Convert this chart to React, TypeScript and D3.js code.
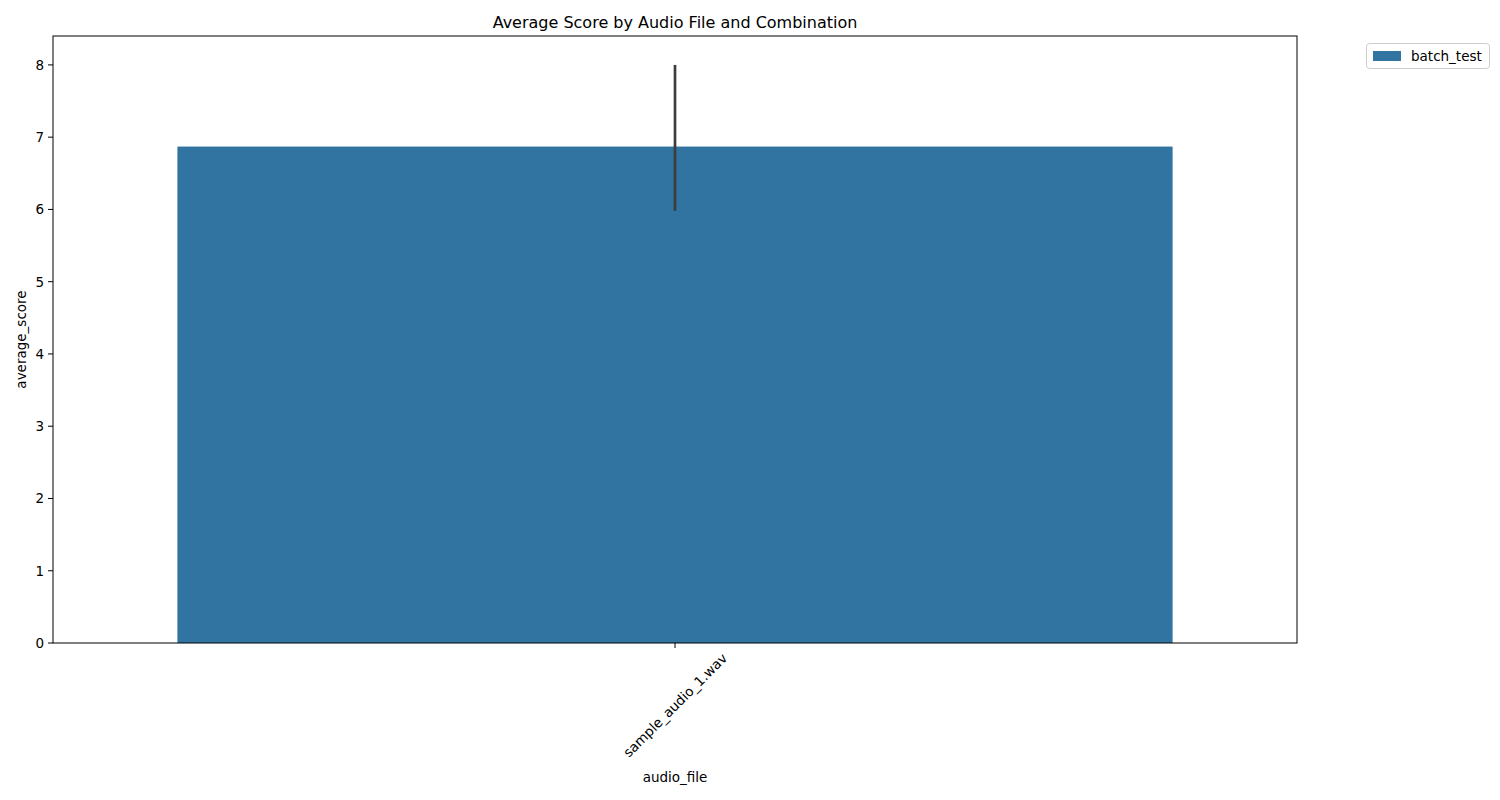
import * as d3 from 'd3';

const files = ['sample_audio_1.wav'];
const series = ['batch_test'];
const means = [6.87];
const ciLow = [5.98];
const ciHigh = [8.0];
const yTicks = [0, 1, 2, 3, 4, 5, 6, 7, 8];

const W = 1500;
const H = 800;
const m = { left: 53, right: 1297, top: 36, bottom: 643 };
const blue = '#3274a1';
const font = 'DejaVu Sans, sans-serif';

export default function App() {
  const x = d3.scaleBand().domain(files).range([m.left, m.right]).paddingInner(0).paddingOuter(0);
  const y = d3.scaleLinear().domain([0, 8.4]).range([m.bottom, m.top]);
  const bw = x.bandwidth() * 0.8;

  return (
    <svg width={W} height={H} style={{ position: 'absolute', left: 0, top: 0 }} fontFamily={font}>
      <rect width={W} height={H} fill='#fff' />
      <text x={675} y={28} textAnchor='middle' fontSize={16}>
        Average Score by Audio File and Combination
      </text>
      {files.map((f, i) => {
        const cx = x(f)! + x.bandwidth() / 2;
        return (
          <g key={f}>
            <rect x={cx - bw / 2} y={y(means[i])} width={bw} height={y(0) - y(means[i])} fill={blue} />
            <line x1={cx} x2={cx} y1={y(ciLow[i])} y2={y(ciHigh[i])} stroke='#3d3d3d' strokeWidth={2.7} />
            <line x1={cx} x2={cx} y1={m.bottom} y2={m.bottom + 5} stroke='#000' />
            <text transform={`translate(${cx},${m.bottom + 62}) rotate(-45)`} textAnchor='middle' dominantBaseline='central' fontSize={13.5}>
              {f}
            </text>
          </g>
        );
      })}
      {yTicks.map((t) => (
        <g key={t}>
          <line x1={m.left - 5} x2={m.left} y1={y(t)} y2={y(t)} stroke='#000' />
          <text x={m.left - 9} y={y(t)} textAnchor='end' dominantBaseline='central' fontSize={13.5}>
            {t}
          </text>
        </g>
      ))}
      <rect x={m.left} y={m.top} width={m.right - m.left} height={m.bottom - m.top} fill='none' stroke='#000' />
      <text x={675} y={782} textAnchor='middle' fontSize={13.5}>audio_file</text>
      <text transform={`translate(26,${(m.top + m.bottom) / 2}) rotate(-90)`} textAnchor='middle' fontSize={13.5}>
        average_score
      </text>
      <rect x={1366.5} y={43.5} width={123} height={25} rx={3} fill='#fff' stroke='#ccc' />
      {series.map((s, i) => (
        <g key={s}>
          <rect x={1373} y={51 + i * 20} width={28} height={10} fill={blue} />
          <text x={1411} y={56 + i * 20} dominantBaseline='central' fontSize={13.5}>{s}</text>
        </g>
      ))}
    </svg>
  );
}
